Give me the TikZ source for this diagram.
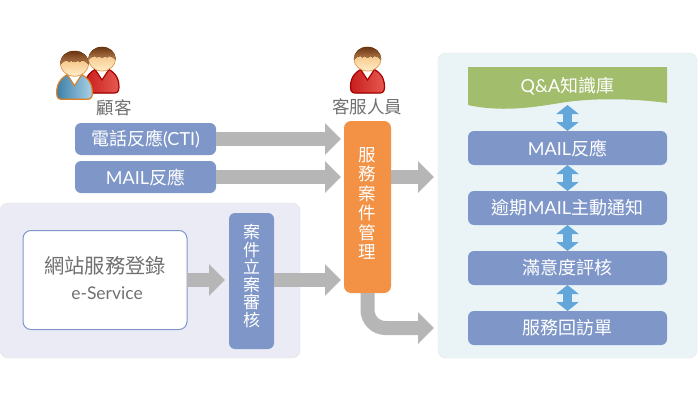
\documentclass[tikz,border=0pt]{standalone}
\usepackage{fontspec}
\setmainfont{Lato}
\newfontfamily\cj{Noto Sans CJK TC}
\usetikzlibrary{arrows.meta,shadings}
\definecolor{bluebox}{HTML}{7F97C8}
\definecolor{orangebox}{HTML}{F39145}
\definecolor{greenbox}{HTML}{A2BD6B}
\definecolor{arrowgray}{HTML}{B6B6B6}
\definecolor{dblblue}{HTML}{62A6DA}
\definecolor{lefpanel}{HTML}{EBEBF5}
\definecolor{rightpanel}{HTML}{EAF4F7}
\definecolor{labelgray}{HTML}{707070}
\definecolor{bodyblueA}{HTML}{3D7FA6}
\definecolor{bodyblueB}{HTML}{A9D2E8}
\definecolor{bodyredA}{HTML}{C81E1E}
\definecolor{bodyredB}{HTML}{E65A50}
\definecolor{hairdark}{HTML}{6A3512}
\definecolor{hairlight}{HTML}{B9814F}
\definecolor{skinlight}{HTML}{FFEFC8}
\definecolor{skindark}{HTML}{F2B069}
\tikzset{
  every node/.style={inner sep=0pt,outer sep=0pt},
  bluenode/.style={fill=bluebox,rounded corners=6pt,text=white,align=center,font=\fontsize{18}{20}\selectfont},
  grayarrow/.style={draw=arrowgray,line width=14pt,-{Triangle[width=31pt,length=16pt]}},
  dblarrow/.style={draw=dblblue,line width=9pt,{Triangle[width=22pt,length=9pt]}-{Triangle[width=22pt,length=9pt]}},
  caption/.style={text=labelgray,font=\cj\fontsize{17.5}{19}\selectfont},
}
\newcommand{\personicon}[6]{%
\begin{scope}[shift={(#1,#2)},scale=#3]
  \fill[shade,left color=#4,right color=#5,draw=#6,line width=1.2pt]
    (-17,40) .. controls (-17,28) and (-10,24) .. (-4,21) -- (4,21)
    .. controls (10,24) and (17,28) .. (17,40)
    .. controls (17,46) and (14,46) .. (11,46) -- (-11,46)
    .. controls (-14,46) and (-17,46) .. (-17,40) -- cycle;
  \fill[white] (-7,21) -- (0,32) -- (7,21) -- cycle;
  \draw[#6,line width=1pt] (-8,21) -- (0,33) -- (8,21);
  \fill[shade,top color=skindark,bottom color=skinlight,draw=skindark!80!brown,line width=.8pt]
    (0,12) ellipse [x radius=13.5,y radius=12];
  \fill[shade,top color=hairdark,bottom color=hairlight]
    (-13.5,13) .. controls (-13.5,4) and (-7,0) .. (0,0)
    .. controls (7,0) and (13.5,4) .. (13.5,13)
    .. controls (11,10) and (9,9) .. (7,9)
    .. controls (6,11) and (4,11) .. (3,9)
    .. controls (2,11) and (-2,11) .. (-3,9)
    .. controls (-4,11) and (-6,11) .. (-7,9)
    .. controls (-9,9) and (-11,10) .. (-13.5,13) -- cycle;
\end{scope}}
\begin{document}
\begin{tikzpicture}[x=1pt,y=-1pt]
\useasboundingbox (0,0) rectangle (700,404);
\fill[white] (0,0) rectangle (700,404);
% panels
\node[fill=lefpanel,draw=black!10,rounded corners=8pt,minimum width=300pt,minimum height=155pt,anchor=north west] (leftp) at (0,203) {};
\node[fill=rightpanel,draw=black!10,rounded corners=8pt,minimum width=259pt,minimum height=305pt,anchor=north west] (rightp) at (438,53) {};
% people
\personicon{102}{47}{1}{bodyredA}{bodyredB}{red!65!black}
\personicon{74.5}{51}{1.05}{bodyblueA}{bodyblueB}{orange!50!brown}
\personicon{367.5}{47}{1}{bodyredA}{bodyredB}{red!65!black}
\node[caption] (cust) at (114,108) {顧客};
\node[caption] (staff) at (367,107) {客服人員};
% left
\node[bluenode,minimum width=141pt,minimum height=32pt] (phone) at (145.5,139) {{\cj 電話反應}(CTI)};
\node[bluenode,minimum width=141pt,minimum height=32pt] (mail) at (145.5,177) {MAIL{\cj 反應}};
\node[draw=bluebox,fill=white,line width=1pt,rounded corners=8pt,minimum width=164pt,minimum height=99pt] (web) at (105,280) {};
\node[text=labelgray,font=\cj\fontsize{20.3}{22}\selectfont] (webone) at (105,266) {網站服務登錄};
\node[text=labelgray,font=\fontsize{17.5}{20}\selectfont] (webtwo) at (107,293) {e-Service};
\node[bluenode,minimum width=45pt,minimum height=136pt] (audit) at (251.5,281) {};
\node[text=white,align=center,font=\cj\fontsize{17}{17.6}\selectfont] (audittext) at (251.5,276) {案\\件\\立\\案\\審\\核};
\node[fill=orangebox,rounded corners=7pt,minimum width=47pt,minimum height=172pt] (svc) at (367.5,207) {};
\node[text=white,align=center,font=\cj\fontsize{17.5}{19.5}\selectfont] (svctext) at (367.5,203.5) {服\\務\\案\\件\\管\\理};
% right
\fill[greenbox] (468,67) -- (667,67) -- (667,103) .. controls (630,98) and (590,98) .. (560,103) .. controls (530,108) and (500,112) .. (468,105) -- cycle;
\node[minimum width=199pt,minimum height=38pt,text=white,font=\fontsize{18}{20}\selectfont] (qa) at (567.5,86) {Q\&A{\cj 知識庫}};
\node[bluenode,minimum width=199pt,minimum height=34pt] (r1) at (567.5,148) {MAIL{\cj 反應}};
\node[bluenode,minimum width=199pt,minimum height=34pt] (r2) at (567.5,208) {{\cj 逾期}MAIL{\cj 主動通知}};
\node[bluenode,minimum width=199pt,minimum height=34pt] (r3) at (567.5,268) {\cj 滿意度評核};
\node[bluenode,minimum width=199pt,minimum height=34pt] (r4) at (567.5,328) {\cj 服務回訪單};
% gray arrows
\draw[grayarrow,shorten >=3pt] (phone.east) -- (svc.west |- phone.east);
\draw[grayarrow,shorten >=3pt] (mail.east) -- (svc.west |- mail.east);
\draw[grayarrow,shorten >=4pt] (web.east) -- (audit.west |- web.east);
\draw[grayarrow,shorten >=3pt] (audit.east |- web.east) -- (svc.west |- web.east);
\draw[grayarrow,shorten >=4pt] (svc.east |- mail.east) -- (rightp.west |- mail.east);
\draw[grayarrow,shorten >=4pt,rounded corners=18pt] (svc.south) -- (svc.south |- r4.west) -- (rightp.west |- r4.west);
% double arrows
\draw[dblarrow] (r1.north |- qa.south) -- (r1.north);
\draw[dblarrow] (r1.south) -- (r2.north);
\draw[dblarrow] (r2.south) -- (r3.north);
\draw[dblarrow] (r3.south) -- (r4.north);
\end{tikzpicture}
\end{document}
